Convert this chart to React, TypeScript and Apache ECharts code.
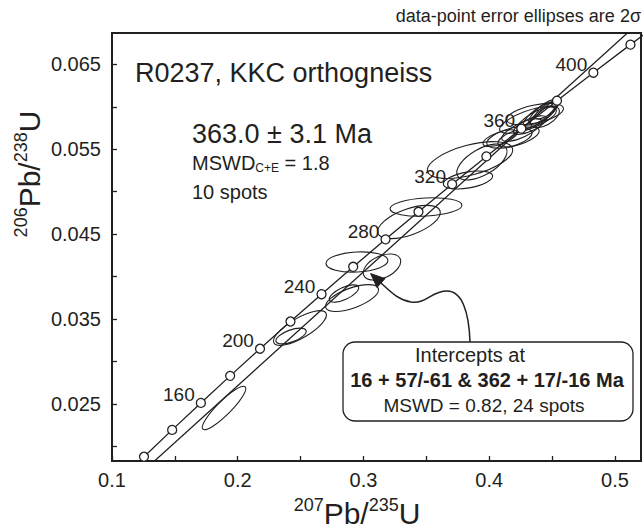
import React, { useEffect, useRef } from 'react';
import * as echarts from 'echarts';

// Concordia curve (age in Ma, 207Pb/235U, 206Pb/238U)
const concordiaAges = [100, 120, 140, 160, 180, 200, 220, 240, 260, 280, 300, 320, 340, 360, 380, 400, 420, 440];
const concordiaX = [0.1035, 0.12545, 0.14784, 0.17067, 0.19396, 0.21771, 0.24193, 0.26664, 0.29183, 0.31753, 0.34374, 0.37047, 0.39773, 0.42553, 0.45389, 0.48281, 0.51231, 0.54239];
const concordiaY = [0.015633, 0.018789, 0.021955, 0.025131, 0.028316, 0.031511, 0.034717, 0.037932, 0.041157, 0.044392, 0.047637, 0.050892, 0.054158, 0.057433, 0.060719, 0.064015, 0.067321, 0.070638];
const labeledAges = [160, 200, 240, 280, 320, 360, 400];

// Discordia (regression) line through the 16 Ma and 362 Ma intercepts
const discordiaX = [0.12, 0.53];
const discordiaY = [0.016438, 0.071384];

// Spot data: centre, 2-sigma half widths, error correlation
const spotX = [0.1891, 0.2495, 0.2424, 0.2845, 0.2909, 0.2948, 0.3147, 0.3497, 0.3362, 0.3831, 0.3847, 0.3942, 0.4189, 0.4205, 0.4308, 0.4364, 0.4404, 0.4427, 0.4372, 0.4443, 0.4324, 0.4459, 0.4086, 0.426];
const spotY = [0.02453, 0.03395, 0.03301, 0.03801, 0.03748, 0.04172, 0.04113, 0.0482, 0.04643, 0.05138, 0.05373, 0.0535, 0.05644, 0.05632, 0.05844, 0.05915, 0.05903, 0.05938, 0.05868, 0.05879, 0.05785, 0.05962, 0.05632, 0.05726];
const spotErrX = [0.01732, 0.02104, 0.01206, 0.01171, 0.0211, 0.02462, 0.01488, 0.02859, 0.02491, 0.01961, 0.03394, 0.01996, 0.02082, 0.01358, 0.02255, 0.02261, 0.01342, 0.01139, 0.01534, 0.01147, 0.01313, 0.0094, 0.01355, 0.01603];
const spotErrY = [0.002565, 0.00204, 0.000926, 0.001022, 0.00158, 0.001192, 0.001539, 0.001081, 0.001958, 0.00106, 0.00217, 0.002116, 0.001313, 0.001061, 0.001566, 0.001256, 0.001511, 0.001466, 0.001433, 0.001246, 0.001101, 0.001062, 0.000983, 0.001325];
const spotRho = [0.897, 0.756, 0.593, 0.66, 0.617, 0.143, 0.437, 0.192, 0.568, 0.432, 0.544, 0.59, 0.555, 0.574, 0.698, 0.51, 0.762, 0.795, 0.826, 0.545, 0.714, 0.753, 0.65, 0.735];

// Axis ticks
const xTicks = [0.1, 0.15, 0.2, 0.25, 0.3, 0.35, 0.4, 0.45, 0.5];
const xLabels = [0.1, 0.2, 0.3, 0.4, 0.5];
const yTicks = [0.02, 0.025, 0.03, 0.035, 0.04, 0.045, 0.05, 0.055, 0.06, 0.065];
const yLabels = [0.025, 0.035, 0.045, 0.055, 0.065];
const xRange = [0.1, 0.5207];
const yRange = [0.01829, 0.06869];

const FONT = '"Liberation Sans", Arial, Helvetica, sans-serif';
const INK = '#231f20';

export default function App() {
  const ref = useRef<HTMLDivElement>(null);
  useEffect(() => {
    document.body.style.margin = '0';
    if (!ref.current) return;
    const chart = echarts.init(ref.current, undefined, { renderer: 'svg' });
    echarts.graphic.registerShape(
      'calloutArrow',
      echarts.graphic.extendPath('M470,342 C469,312 462,291 447,291 C431,291 427,304 411,302 C398,300 391,292 381,283', {})
    );

    const concordiaLine = concordiaAges.map((a, i) => [concordiaX[i], concordiaY[i]]);
    const markers = concordiaAges
      .map((a, i) => [concordiaX[i], concordiaY[i], a])
      .filter((p) => p[0] >= xRange[0] && p[0] <= xRange[1] && p[1] >= yRange[0] && p[1] <= yRange[1]);
    const discordia = discordiaX.map((x, i) => [x, discordiaY[i]]);
    const spots = spotX.map((x, i) => [x, spotY[i], spotErrX[i], spotErrY[i], spotRho[i]]);

    const txt = (text: string, x: number, y: number, size: number, align = 'left', weight = 'normal') => ({
      type: 'text',
      x,
      y,
      z: 100,
      style: {
        text,
        fill: INK,
        fontSize: size,
        fontFamily: FONT,
        fontWeight: weight,
        align,
        verticalAlign: 'middle',
        textAlign: align,
        textVerticalAlign: 'middle',
      },
    });

    const option: any = {
      animation: false,
      backgroundColor: '#ffffff',
      textStyle: { fontFamily: FONT },
      grid: {
        left: 112,
        right: 3,
        top: 33,
        bottom: 68,
        show: true,
        borderColor: INK,
        borderWidth: 2,
        backgroundColor: 'transparent',
        containLabel: false,
        outerBoundsMode: 'none',
      },
      xAxis: {
        type: 'value',
        min: xRange[0],
        max: xRange[1],
        axisLine: { show: false },
        splitLine: { show: false },
        axisTick: { show: true, inside: true, length: 5, customValues: xTicks, lineStyle: { color: INK, width: 1.3 } },
        axisLabel: {
          customValues: xLabels,
          formatter: (v: number) => String(v),
          fontSize: 20,
          color: INK,
          fontFamily: FONT,
          margin: 9,
        },
      },
      yAxis: {
        type: 'value',
        min: yRange[0],
        max: yRange[1],
        axisLine: { show: false },
        splitLine: { show: false },
        axisTick: { show: true, inside: true, length: 5, customValues: yTicks, lineStyle: { color: INK, width: 1.3 } },
        axisLabel: {
          customValues: yLabels,
          formatter: (v: number) => String(v),
          fontSize: 20,
          color: INK,
          fontFamily: FONT,
          margin: 11,
        },
      },
      series: [
        {
          type: 'custom',
          name: 'spots',
          coordinateSystem: 'cartesian2d',
          clip: true,
          encode: { x: 0, y: 1 },
          data: spots,
          renderItem: (params: any, api: any) => {
            const c = api.coord([api.value(0), api.value(1)]);
            const s = api.size([api.value(2), api.value(3)]);
            const hx = Math.abs(s[0]);
            const hy = Math.abs(s[1]);
            const rho = api.value(4);
            const sxx = hx * hx;
            const syy = hy * hy;
            const sxy = -rho * hx * hy;
            const m = (sxx + syy) / 2;
            const d = Math.sqrt(((sxx - syy) / 2) ** 2 + sxy * sxy);
            const l1 = m + d;
            const l2 = Math.max(m - d, 0.5);
            const phi = 0.5 * Math.atan2(2 * sxy, sxx - syy);
            return {
              type: 'ellipse',
              x: c[0],
              y: c[1],
              rotation: -phi,
              shape: { cx: 0, cy: 0, rx: Math.sqrt(l1), ry: Math.sqrt(l2) },
              style: { fill: 'none', stroke: INK, lineWidth: 1.1 },
            };
          },
          z: 2,
        },
        {
          type: 'line',
          name: 'discordia',
          data: discordia,
          symbol: 'none',
          clip: true,
          lineStyle: { color: INK, width: 1.3 },
          z: 3,
        },
        {
          type: 'line',
          name: 'concordia',
          data: concordiaLine,
          symbol: 'none',
          clip: true,
          lineStyle: { color: INK, width: 1.3 },
          z: 3,
        },
        {
          type: 'scatter',
          name: 'ages',
          data: markers,
          symbol: 'circle',
          symbolSize: 9,
          itemStyle: { color: '#ffffff', borderColor: INK, borderWidth: 1.3, opacity: 1 },
          label: {
            show: true,
            position: 'left',
            distance: 1,
            offset: [0, -8],
            fontSize: 19,
            color: INK,
            fontFamily: FONT,
            formatter: (p: any) => (labeledAges.includes(p.value[2]) ? String(p.value[2]) : ''),
          },
          z: 4,
        },
      ],
      graphic: [
        txt('data-point error ellipses are 2σ', 641, 16, 18, 'right'),
        txt('R0237, KKC orthogneiss', 135, 73, 27),
        txt('363.0 ± 3.1 Ma', 192, 134, 27),
        {
          type: 'text',
          x: 192,
          y: 163,
          z: 100,
          style: {
            text: '{a|MSWD}{s|C+E}{a| = 1.8}',
            align: 'left',
            verticalAlign: 'middle',
            textAlign: 'left',
            textVerticalAlign: 'middle',
            fill: INK,
            fontFamily: FONT,
            rich: {
              a: { fontSize: 20, lineHeight: 22, fontFamily: FONT, fill: INK, color: INK, verticalAlign: 'middle' },
              s: { fontSize: 12, lineHeight: 8, fontFamily: FONT, fill: INK, color: INK, verticalAlign: 'bottom' },
            },
          },
        },
        txt('10 spots', 192, 192, 20),
        {
          type: 'rect',
          z: 90,
          shape: { x: 343, y: 342, width: 290, height: 79, r: 12 },
          style: { fill: '#ffffff', stroke: INK, lineWidth: 1.3 },
        },
        txt('Intercepts at', 470, 355, 20, 'center'),
        txt('16 + 57/-61 & 362 + 17/-16 Ma', 487, 380, 20, 'center', 'bold'),
        txt('MSWD = 0.82, 24 spots', 484, 405, 19, 'center'),
        {
          type: 'calloutArrow',
          x: 0,
          y: 0,
          z: 95,
          style: { fill: 'none', stroke: INK, lineWidth: 1.5 },
        },
        {
          type: 'polygon',
          z: 95,
          shape: { points: [[370.6, 273.6], [385, 278.6], [377, 287.4]] },
          style: { fill: INK, stroke: INK, lineWidth: 1 },
        },
        {
          type: 'text',
          x: 357,
          y: 513,
          z: 100,
          style: {
            text: '{p|207}{m|Pb/}{p|235}{m|U}',
            align: 'center',
            verticalAlign: 'middle',
            textAlign: 'center',
            textVerticalAlign: 'middle',
            fill: INK,
            fontFamily: FONT,
            rich: {
              p: { fontSize: 18, lineHeight: 20, fontFamily: FONT, fill: INK, color: INK, verticalAlign: 'top' },
              m: { fontSize: 30, lineHeight: 34, fontFamily: FONT, fill: INK, color: INK, verticalAlign: 'middle' },
            },
          },
        },
        {
          type: 'text',
          x: 29,
          y: 174,
          rotation: Math.PI / 2,
          z: 100,
          style: {
            text: '{p|206}{m|Pb/}{p|238}{m|U}',
            align: 'center',
            verticalAlign: 'middle',
            textAlign: 'center',
            textVerticalAlign: 'middle',
            fill: INK,
            fontFamily: FONT,
            rich: {
              p: { fontSize: 18, lineHeight: 20, fontFamily: FONT, fill: INK, color: INK, verticalAlign: 'top' },
              m: { fontSize: 30, lineHeight: 34, fontFamily: FONT, fill: INK, color: INK, verticalAlign: 'middle' },
            },
          },
        },
      ],
    };
    chart.setOption(option);
    return () => chart.dispose();
  }, []);
  return <div ref={ref} style={{ width: 644, height: 529 }} />;
}
